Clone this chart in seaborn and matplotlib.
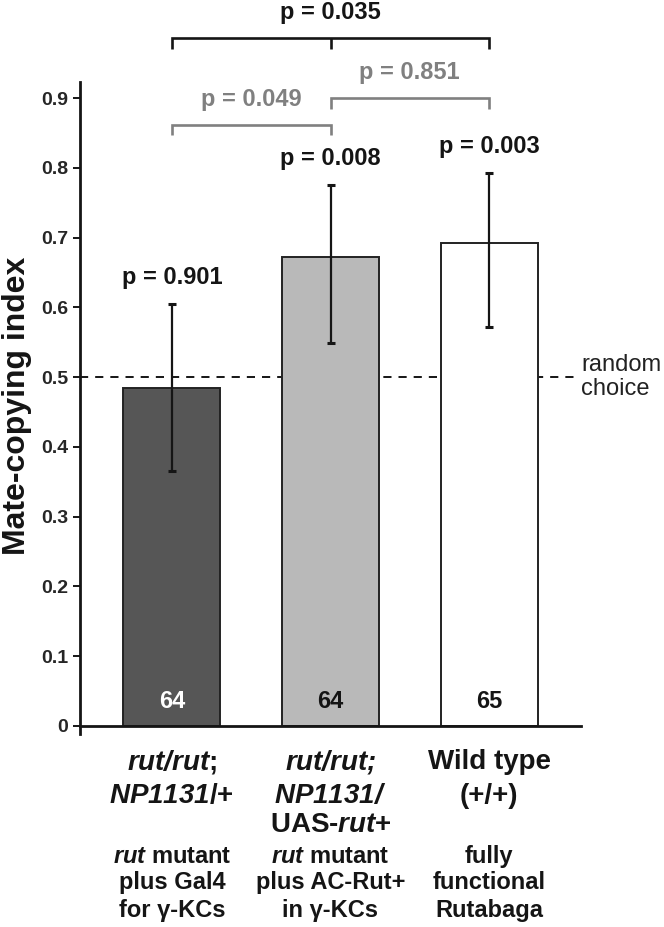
import matplotlib
matplotlib.use("Agg")
import matplotlib.pyplot as plt
import matplotlib.transforms as mtransforms
import seaborn as sns
import pandas as pd

# ---------------- data ----------------
categories = ["rut/rut; NP1131/+", "rut/rut; NP1131/UAS-rut+", "Wild type (+/+)"]
means = [0.484, 0.672, 0.692]
err_low = [0.365, 0.549, 0.572]
err_high = [0.605, 0.775, 0.792]
n_flies = [64, 64, 65]
bar_pvalues = ["p = 0.901", "p = 0.008", "p = 0.003"]
comparisons = [(0, 2), (0, 1), (1, 2)]
comparison_p = ["p = 0.035", "p = 0.049", "p = 0.851"]
random_choice = 0.5
y_ticks = [0, 0.1, 0.2, 0.3, 0.4, 0.5, 0.6, 0.7, 0.8, 0.9]
y_tick_labels = ["0", "0.1", "0.2", "0.3", "0.4", "0.5", "0.6", "0.7", "0.8", "0.9"]
genotype_lines = [
    [r"$\mathbfit{rut/rut}$;", r"$\mathbfit{NP1131}$/+"],
    [r"$\mathbfit{rut/rut;}$", r"$\mathbfit{NP1131/}$", r"UAS-$\mathbfit{rut}$+"],
    ["Wild type", "(+/+)"],
]
description_lines = [
    [r"$\mathbfit{rut}$ mutant", "plus Gal4", "for γ-KCs"],
    [r"$\mathbfit{rut}$ mutant", "plus AC-Rut+", "in γ-KCs"],
    ["fully", "functional", "Rutabaga"],
]

# ---------------- style ----------------
sns.set_theme(style="white")
plt.rcParams["font.family"] = ["Liberation Sans", "DejaVu Sans"]
plt.rcParams["mathtext.fontset"] = "custom"
plt.rcParams["mathtext.rm"] = "Liberation Sans:bold"
plt.rcParams["mathtext.it"] = "Liberation Sans:italic:bold"
plt.rcParams["mathtext.bf"] = "Liberation Sans:bold"
try:
    plt.rcParams["mathtext.bfit"] = "Liberation Sans:italic:bold"
except KeyError:
    pass

ink = "#151515"
bar_colors = ["#565656", "#b9b9b9", "#ffffff"]
count_colors = ["white", ink, ink]
bracket_colors = [ink, "#808080", "#808080"]
bracket_heights = [0.986, 0.862, 0.900]
bracket_drop = 0.015

fig = plt.figure(figsize=(6.64, 9.27), dpi=100)
ax = fig.add_axes([80 / 664, 193 / 927, 501 / 664, 652 / 927])

df = pd.DataFrame({"genotype": categories, "index": means})
sns.barplot(data=df, x="genotype", y="index", hue="genotype", palette=bar_colors,
            width=0.612, edgecolor="#222222", linewidth=1.4, legend=False, ax=ax,
            zorder=2)

xs = list(range(len(categories)))
yerr = [[m - lo for m, lo in zip(means, err_low)], [hi - m for m, hi in zip(means, err_high)]]
ax.errorbar(xs, means, yerr=yerr, fmt="none", ecolor=ink, elinewidth=1.6,
            capsize=2.9, capthick=2.2, zorder=3)

ax.axhline(random_choice, xmin=0, xmax=0.986, color=ink, lw=1.4,
           ls=(0, (4.2, 3.6)), zorder=1)
ax.text(1.0, random_choice, "random\nchoice",
        transform=mtransforms.blended_transform_factory(ax.transAxes, ax.transData),
        ha="left", va="center", fontsize=17, color="#222222", linespacing=1.15)

ax.set_xlim(-0.58, 2.58)
ax.set_ylim(-0.0115, 0.923)
ax.set_yticks(y_ticks)
ax.set_yticklabels(y_tick_labels, fontweight="bold", fontsize=14)
ax.set_xticks(xs)
ax.set_xticklabels([""] * len(xs))
ax.tick_params(axis="y", direction="out", length=5, width=1.4, color=ink, pad=3.5, left=True)
ax.tick_params(axis="x", length=0)
ax.set_xlabel("")
ax.set_ylabel("")
for s in ["top", "right"]:
    ax.spines[s].set_visible(False)
for s in ["left", "bottom"]:
    ax.spines[s].set_color(ink)
    ax.spines[s].set_linewidth(2.0)
ax.spines["bottom"].set_position(("data", 0))

fig.text(17 / 664, 1 - 406 / 927, "Mate-copying index", rotation=90, ha="center",
         va="center", fontsize=23, fontweight="bold", color=ink)

# counts in bars
for x, n, c in zip(xs, n_flies, count_colors):
    ax.annotate(str(n), xy=(x, 0), xytext=(0, 24 * 0.72), textcoords="offset points",
                ha="center", va="center", fontsize=17, fontweight="bold",
                color=c, zorder=4)

# p-values above bars
for x, hi, p in zip(xs, err_high, bar_pvalues):
    ax.text(x, hi + 0.038, p, ha="center", va="center", fontsize=17, fontweight="bold",
            color=ink)

# comparison brackets
for (a, b), p, h, c in zip(comparisons, comparison_p, bracket_heights, bracket_colors):
    ax.plot([a, a, b, b], [h - bracket_drop, h, h, h - bracket_drop], color=c, lw=1.9,
            clip_on=False, solid_capstyle="butt", solid_joinstyle="miter")
    if b - a == 2:
        ax.plot([(a + b) / 2, (a + b) / 2], [h, h - bracket_drop], color=c, lw=1.9,
                clip_on=False, solid_capstyle="butt")
    ax.text((a + b) / 2, h + 0.036, p, ha="center", va="center", fontsize=17,
            fontweight="bold", color=c, clip_on=False)

# category labels
geno_offsets = [36, 70, 99]
desc_offsets = [131, 157, 185]
for x, g_lines, d_lines in zip(xs, genotype_lines, description_lines):
    for line, off in zip(g_lines, geno_offsets):
        ax.annotate(line, xy=(x, 0), xycoords="data",
                    xytext=(0, -off * 0.72), textcoords="offset points",
                    ha="center", va="center", fontsize=20, fontweight="bold",
                    color=ink, annotation_clip=False)
    for line, off in zip(d_lines, desc_offsets):
        ax.annotate(line, xy=(x, 0), xycoords="data",
                    xytext=(0, -off * 0.72), textcoords="offset points",
                    ha="center", va="center", fontsize=17, fontweight="bold",
                    color=ink, annotation_clip=False)

fig.savefig("out.png", dpi=100)
